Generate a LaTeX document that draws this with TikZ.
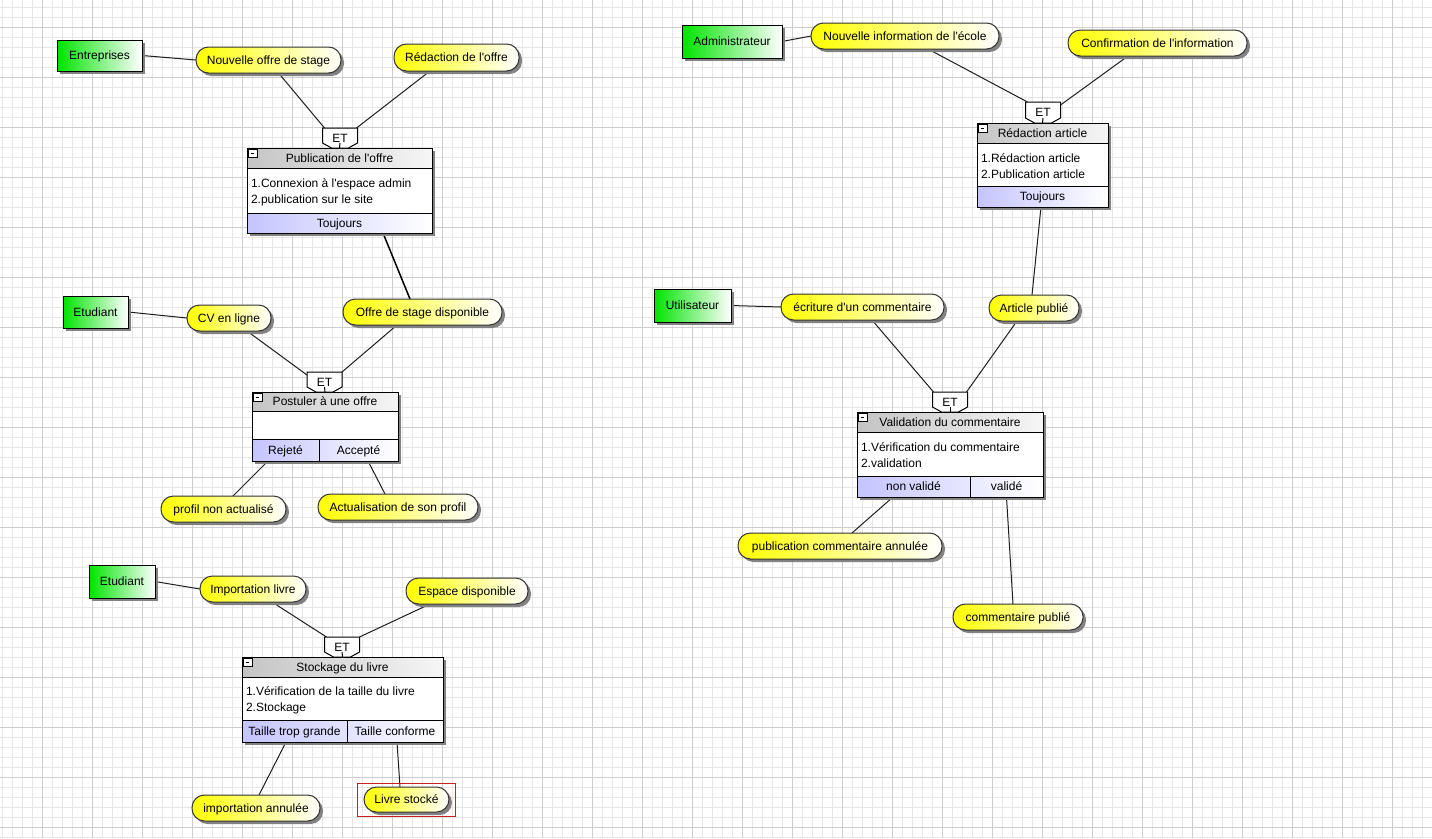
\documentclass[tikz,border=0pt]{standalone}
\usepackage{fontspec}
\setmainfont{Liberation Sans}[Ligatures=TeXOff]
\usetikzlibrary{shadows}
\definecolor{gridminor}{RGB}{230,230,230}
\definecolor{gridmajor}{RGB}{206,206,206}
\definecolor{evyellow}{RGB}{255,255,0}
\definecolor{actgreen}{RGB}{0,228,0}
\definecolor{resblue}{RGB}{196,196,255}
\definecolor{titlegray}{RGB}{196,196,196}
\definecolor{titlelight}{RGB}{246,246,246}
\definecolor{shadowgray}{RGB}{130,130,130}
\definecolor{linkgray}{RGB}{30,30,30}
\definecolor{selred}{RGB}{205,30,30}
\pgfdeclarelayer{grid}
\pgfdeclarelayer{links}
\pgfsetlayers{grid,links,main}

\begin{document}
\begin{tikzpicture}[x=1pt,y=-1pt,
  font=\fontsize{12}{16}\selectfont,
  every node/.style={inner sep=0pt, outer sep=0pt},
  oneline/.style={text height=9pt, text depth=0.8pt},
  shadowed/.style={drop shadow={shadow xshift=3pt, shadow yshift=-3pt, fill=shadowgray, opacity=1}},
  actor/.style={oneline, shadowed, draw=black, line width=1pt, left color=actgreen, right color=white, minimum height=32},
  event/.style={oneline, shadowed, draw=black!80, line width=1pt, rounded corners=12.5pt, left color=evyellow, right color=white, minimum height=26},
  frame/.style={shadowed, fill=white, draw=black, line width=1pt},
  ptitle/.style={oneline, draw=black, line width=1pt, left color=titlegray, right color=titlelight},
  pbody/.style={draw=black, line width=1pt, fill=white},
  presult/.style={oneline, draw=black, line width=1pt, left color=resblue, right color=white},
  pcell/.style={oneline, draw=black, line width=1pt},
  ptext/.style={anchor=west, align=left, yshift=-1.5pt},
  minusbox/.style={draw=black, line width=0.8pt, fill=white, minimum width=9, minimum height=8},
  etbox/.style={oneline, minimum width=35, minimum height=20},
  link/.style={draw=linkgray, line width=1pt},
  boldlink/.style={draw=black, line width=1.5pt},
]
\useasboundingbox (0,0) rectangle (1432,838);

% ---------- squared paper ----------
\begin{pgfonlayer}{grid}
  \fill[white] (0,0) rectangle (1432,838);
  \foreach \i in {0,...,143} \draw[gridminor, line width=1pt] (2+10*\i,0) -- (2+10*\i,838);
  \foreach \j in {0,...,83} \draw[gridminor, line width=1pt] (0,7+10*\j) -- (1432,7+10*\j);
  \foreach \i in {0,...,28} \draw[gridmajor, line width=1pt] (42+50*\i,0) -- (42+50*\i,838);
  \foreach \j in {0,...,16} \draw[gridmajor, line width=1pt] (0,27+50*\j) -- (1432,27+50*\j);
\end{pgfonlayer}

% ---------- actors ----------
\node[actor, minimum width=85, minimum height=31] (ent) at (99.5,55.5) {Entreprises};
\node[actor, minimum width=100, minimum height=33] (adm) at (732,41.5) {Administrateur};
\node[actor, minimum width=65] (etu1) at (95.5,312) {Etudiant};
\node[actor, minimum width=77, minimum height=33] (uti) at (692.5,305.5) {Utilisateur};
\node[actor, minimum width=66, minimum height=33] (etu2) at (122,581.5) {Etudiant};

% ---------- events ----------
\node[event, minimum width=145] (e1) at (268.5,60) {Nouvelle offre de stage};
\node[event, minimum width=125, minimum height=27] (e2) at (456.5,57.5) {Rédaction de l'offre};
\node[event, minimum width=188] (e3) at (905,36) {Nouvelle information de l'école};
\node[event, minimum width=179] (e4) at (1157.5,43) {Confirmation de l'information};
\node[event, minimum width=84] (e5) at (229,318) {CV en ligne};
\node[event, minimum width=159] (e6) at (422.5,312) {Offre de stage disponible};
\node[event, minimum width=125] (e7) at (223.5,509) {profil non actualisé};
\node[event, minimum width=160] (e8) at (398,507) {Actualisation de son profil};
\node[event, minimum width=163] (e9) at (862.5,307) {écriture d'un commentaire};
\node[event, minimum width=90] (e10) at (1034,308) {Article publié};
\node[event, minimum width=204] (e11) at (840,546) {publication commentaire annulée};
\node[event, minimum width=130] (e12) at (1018,617) {commentaire publié};
\node[event, minimum width=106] (e13) at (253,589) {Importation livre};
\node[event, minimum width=122] (e14) at (467,591) {Espace disponible};
\node[event, minimum width=128] (e15) at (256,808) {importation annulée};
\node[event, minimum width=85, minimum height=25] (e16) at (406.5,799.5) {Livre stocké};
\node[draw=selred, line width=1pt, minimum width=98, minimum height=33] (sel) at (406,799.5) {};

% ---------- process: Publication de l'offre ----------
\node[frame, minimum width=185, minimum height=85] (p1) at (339.5,190.5) {};
\node[ptitle, minimum width=185, minimum height=20] (p1t) at (339.5,158) {Publication de l'offre};
\node[pbody, minimum width=185, minimum height=45] (p1b) at (339.5,190.5) {};
\node[presult, minimum width=185, minimum height=20] (p1r) at (339.5,223) {Toujours};
\node[ptext] (p1x) at (251,190.5) {1.Connexion à l'espace admin\\2.publication sur le site};
\node[minusbox] (p1m) at (252.5,153) {};
\node[etbox] (et1) at (340,138) {ET};

% ---------- process: Postuler à une offre ----------
\node[frame, minimum width=146, minimum height=69] (p2) at (325,426.5) {};
\node[ptitle, minimum width=146, minimum height=19] (p2t) at (325,401.5) {Postuler à une offre};
\node[pbody, minimum width=146, minimum height=28] (p2b) at (325,425) {};
\node[presult, minimum width=146, minimum height=22] (p2r) at (325,450) {};
\node[pcell, minimum width=67, minimum height=22] (p2r1) at (285.5,450) {Rejeté};
\node[pcell, minimum width=79, minimum height=22] (p2r2) at (358.5,450) {Accepté};
\node[minusbox] (p2m) at (257.5,397) {};
\node[etbox] (et2) at (324.5,382) {ET};

% ---------- process: Stockage du livre ----------
\node[frame, minimum width=201, minimum height=85] (p3) at (342.5,699.5) {};
\node[ptitle, minimum width=201, minimum height=20] (p3t) at (342.5,667) {Stockage du livre};
\node[pbody, minimum width=201, minimum height=43] (p3b) at (342.5,698.5) {};
\node[presult, minimum width=201, minimum height=22] (p3r) at (342.5,731) {};
\node[pcell, minimum width=105, minimum height=22] (p3r1) at (294.5,731) {Taille trop grande};
\node[pcell, minimum width=96, minimum height=22] (p3r2) at (395,731) {Taille conforme};
\node[ptext] (p3x) at (246,698.5) {1.Vérification de la taille du livre\\2.Stockage};
\node[minusbox] (p3m) at (247.5,662) {};
\node[etbox] (et3) at (342,647) {ET};

% ---------- process: Rédaction article ----------
\node[frame, minimum width=131, minimum height=84] (p4) at (1042.5,165) {};
\node[ptitle, minimum width=131, minimum height=20] (p4t) at (1042.5,133) {Rédaction article};
\node[pbody, minimum width=131, minimum height=43] (p4b) at (1042.5,164.5) {};
\node[presult, minimum width=131, minimum height=21] (p4r) at (1042.5,196.5) {Toujours};
\node[ptext] (p4x) at (981,164.5) {1.Rédaction article\\2.Publication article};
\node[minusbox] (p4m) at (982.5,128) {};
\node[etbox, minimum height=21] (et4) at (1043,112.5) {ET};

% ---------- process: Validation du commentaire ----------
\node[frame, minimum width=186, minimum height=85] (p5) at (950,454.5) {};
\node[ptitle, minimum width=186, minimum height=20] (p5t) at (950,422) {Validation du commentaire};
\node[pbody, minimum width=186, minimum height=44] (p5b) at (950,454) {};
\node[presult, minimum width=186, minimum height=21] (p5r) at (950,486.5) {};
\node[pcell, minimum width=113, minimum height=21] (p5r1) at (913.5,486.5) {non validé};
\node[pcell, minimum width=73, minimum height=21] (p5r2) at (1006.5,486.5) {validé};
\node[ptext] (p5x) at (861,454) {1.Vérification du commentaire\\2.validation};
\node[minusbox] (p5m) at (862.5,417) {};
\node[etbox] (et5) at (950,402) {ET};

% collapse markers: a short dash inside each small box
\foreach \m in {p1m, p2m, p3m, p4m, p5m}
  \draw[black, line width=1pt] ([xshift=-2pt]\m.center) -- ([xshift=1.5pt]\m.center);

% ---------- connectors and ET junctions ----------
\begin{pgfonlayer}{links}
  % Publication de l'offre
  \draw[link] (ent.east) -- (e1.west);
  \draw[link] ([xshift=10pt]e1.south) -- ([xshift=2pt]et1.north west);
  \draw[link] ([xshift=-26.5pt]e2.south) -- ([xshift=-1pt]et1.north east);
  \draw[boldlink] ([xshift=43.5pt]p1r.south) -- ([xshift=-12.5pt]e6.north);
  % Postuler
  \draw[link] (etu1.east) -- (e5.west);
  \draw[link] ([xshift=18pt]e5.south) -- ([yshift=-3pt]et2.north west);
  \draw[link] ([xshift=-25.5pt]e6.south) -- (et2.north east);
  \draw[link] ([xshift=-17.5pt]p2r1.south) -- ([xshift=9.5pt]e7.north);
  \draw[link] ([xshift=9.5pt]p2r2.south) -- ([xshift=-13pt]e8.north);
  % Stockage
  \draw[link] (etu2.east) -- (e13.west);
  \draw[link] ([xshift=19pt]e13.south) -- ([xshift=2pt]et3.north west);
  \draw[link] ([xshift=-37pt]e14.south) -- (et3.north east);
  \draw[link] ([xshift=-8.5pt]p3r1.south) -- ([xshift=3pt]e15.north);
  \draw[link] ([xshift=2pt]p3r2.south) -- ([xshift=-6.5pt]e16.north);
  % Rédaction article
  \draw[link] (adm.east) -- (e3.west);
  \draw[link] ([xshift=23pt]e3.south) -- ([xshift=2pt]et4.north west);
  \draw[link] ([xshift=-29.5pt]e4.south) -- ([yshift=-3pt]et4.north east);
  \draw[link] ([xshift=-1.5pt]p4r.south) -- ([xshift=-2pt]e10.north);
  % Validation du commentaire
  \draw[link] (uti.east) -- (e9.west);
  \draw[link] ([xshift=9.5pt]e9.south) -- ([xshift=1pt]et5.north west);
  \draw[link] ([xshift=-17pt]e10.south) -- ([xshift=-1pt]et5.north east);
  \draw[link] ([xshift=-20.5pt]p5r1.south) -- ([xshift=12pt]e11.north);
  \draw[link] (p5r2.south) -- ([xshift=-5pt]e12.north);
  % ET junction shapes and their short stems
  \foreach \n/\p in {et1/p1t, et2/p2t, et3/p3t, et4/p4t, et5/p5t} {
    \draw[fill=white, draw=black, line width=1pt]
      (\n.north west) -- (\n.north east) -- ([yshift=5pt]\n.south east)
      -- ([xshift=8.5pt]\n.south) -- ([xshift=-8.5pt]\n.south)
      -- ([yshift=5pt]\n.south west) -- cycle;
    \draw[black, line width=1pt] ([yshift=5pt]\n.south) -- (\p.north);
  }
\end{pgfonlayer}
\end{tikzpicture}
\end{document}
